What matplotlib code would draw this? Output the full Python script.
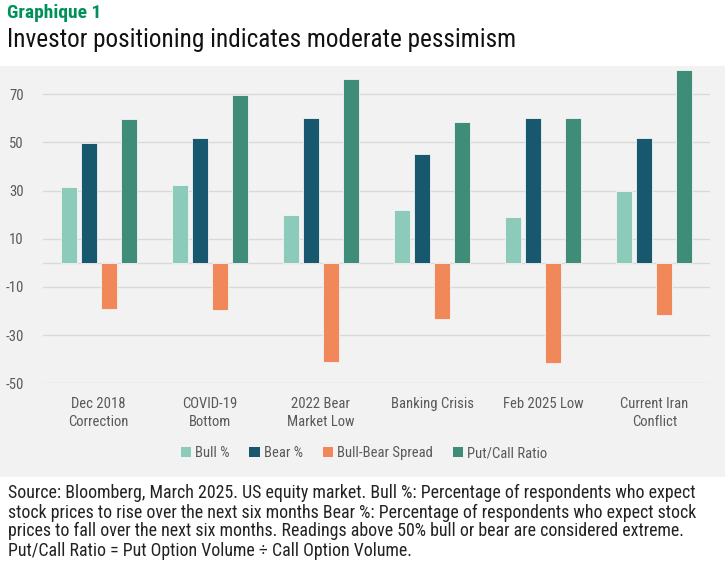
import matplotlib
matplotlib.use("Agg")
import matplotlib.pyplot as plt
import numpy as np
from matplotlib.patches import Rectangle, Patch

categories = ["Dec 2018\nCorrection", "COVID-19\nBottom", "2022 Bear\nMarket Low",
              "Banking Crisis", "Feb 2025 Low", "Current Iran\nConflict"]
bull = [31.3, 32.5, 19.7, 22.1, 19.1, 30.0]
bear = [49.8, 51.8, 60.3, 45.4, 60.1, 51.8]
spread = [-19.0, -19.4, -41.0, -23.3, -41.4, -21.7]
put_call = [59.7, 69.6, 76.5, 58.5, 60.3, 79.9]
series_names = ["Bull %", "Bear %", "Bull-Bear Spread", "Put/Call Ratio"]
series_colors = ["#8ccbb9", "#17586f", "#f0885a", "#3f8d78"]
yticks = [-50, -30, -10, 10, 30, 50, 70]
foot_lines = [
    "Source: Bloomberg, March 2025. US equity market. Bull %: Percentage of respondents who expect",
    "stock prices to rise over the next six months Bear %: Percentage of respondents who expect stock",
    "prices to fall over the next six months. Readings above 50% bull or bear are considered extreme.",
    "Put/Call Ratio = Put Option Volume \u00f7 Call Option Volume.",
]

W, H = 725, 562
FONT = ["Roboto Condensed", "DejaVu Sans"]
plt.rcParams["font.family"] = FONT
plt.rcParams["font.stretch"] = "condensed"

def fx(x):
    return x / W

def fy(y):
    return 1 - y / H

fig = plt.figure(figsize=(W / 100, H / 100), dpi=100)
fig.patch.set_facecolor("white")
fig.patches.append(Rectangle((0, fy(476.5)), 1, fy(66) - fy(476.5), transform=fig.transFigure,
                             facecolor="#f2f2f2", edgecolor="none", zorder=-5))

ax = fig.add_axes([fx(43), fy(383.3), fx(710) - fx(43), fy(66.6) - fy(383.3)])
ax.set_zorder(2)
ax.set_facecolor("#f2f2f2")
x = np.arange(len(categories))
offsets = [-0.27, -0.09, 0.09, 0.27]
for vals, off, col, name in zip([bull, bear, spread, put_call], offsets, series_colors, series_names):
    ax.bar(x + off, vals, width=0.144, color=col, edgecolor="#f4f4f4", linewidth=0.6,
           label=name, zorder=3, clip_on=False)

ax.set_xlim(-0.5, len(categories) - 0.5)
ax.set_ylim(-50, 81.5)
ax.set_yticks(yticks)
ax.set_yticklabels([str(v) for v in yticks])
for v in yticks:
    ax.axhline(v, color="#d9d9d9", linewidth=1.0, zorder=1)
ax.axhline(0, color="#d9d9d9", linewidth=1.0, zorder=1)
ax.set_xticks(x)
ax.set_xticklabels(categories, linespacing=1.35)
ax.tick_params(axis="both", length=0, labelsize=10.5, labelcolor="#595959")
ax.tick_params(axis="y", pad=14)
ax.tick_params(axis="x", pad=10)
for s in ax.spines.values():
    s.set_visible(False)

handles = [Patch(facecolor=c, edgecolor="none") for c in series_colors]
fig.legend(handles, series_names, loc="center", bbox_to_anchor=(fx(364), fy(453)), ncol=4,
           frameon=False, fontsize=10.5, handlelength=0.7, handleheight=0.7,
           handletextpad=0.3, columnspacing=1.35, labelcolor="#595959")

fig.text(fx(7), fy(18.5), "Graphique 1", fontsize=14, fontweight="bold", color="#00915a",
         ha="left", va="baseline")
fig.text(fx(7), fy(46.5), "Investor positioning indicates moderate pessimism", fontsize=18.2,
         color="#111111", ha="left", va="baseline")

for i, line in enumerate(foot_lines):
    fig.text(fx(8), fy(498.5 + 19 * i), line, fontsize=12.9, color="#222222",
             ha="left", va="baseline")

fig.savefig("out.png", dpi=100, facecolor="white")
